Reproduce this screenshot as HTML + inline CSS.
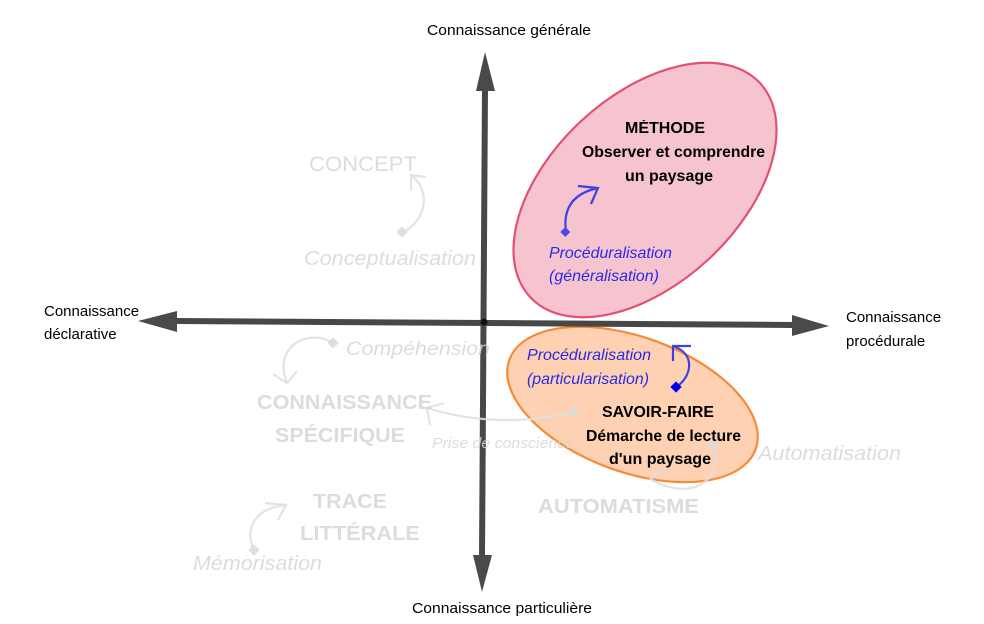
<!DOCTYPE html>
<html>
<head>
<meta charset="utf-8">
<style>
html,body{margin:0;padding:0;background:#fff;}
svg{display:block;}
text{font-family:"Liberation Sans",Arial,sans-serif;}
</style>
</head>
<body>
<svg width="984" height="624" viewBox="0 0 984 624" xmlns="http://www.w3.org/2000/svg">
  <rect width="984" height="624" fill="#fff"/>

  <!-- Ellipses -->
  <ellipse cx="645" cy="190" rx="157" ry="94" transform="rotate(-43 645 190)" fill="#f6c4cf" stroke="#e4506f" stroke-width="2.2"/>
  <ellipse cx="632.5" cy="404.5" rx="131" ry="67.5" transform="rotate(20 632.5 404.5)" fill="#fdd1b2" stroke="#f68a3a" stroke-width="2.2"/>

  <!-- Axes -->
  <g stroke="#474747" stroke-width="6" stroke-linecap="butt">
    <line x1="485" y1="88" x2="482" y2="557"/>
    <line x1="175" y1="321" x2="794" y2="325"/>
  </g>
  <g fill="#4a4a4a">
    <polygon points="485,52 476,91 495,91"/>
    <polygon points="482,592 473,555 492,555"/>
    <polygon points="138,321 177,311 177,332"/>
    <polygon points="829,326 792,315 792,336"/>
  </g>
  <circle cx="484" cy="322" r="3.5" fill="#111"/>

  <!-- Axis labels -->
  <g font-size="15" fill="#000">
    <text x="427" y="35" textLength="164" lengthAdjust="spacingAndGlyphs">Connaissance générale</text>
    <text x="412" y="613" textLength="180" lengthAdjust="spacingAndGlyphs">Connaissance particulière</text>
    <text x="44" y="316">Connaissance</text>
    <text x="44" y="339">déclarative</text>
    <text x="846" y="322">Connaissance</text>
    <text x="846" y="346">procédurale</text>
  </g>

  <!-- Grey (faded) elements -->
  <g fill="none" stroke="#e0e0e0" stroke-width="2.2" opacity="0.9">
    <path d="M403,232 C425,222 432,192 412,176"/>
    <polyline points="426,177 411,175 411,191"/>
    <path d="M333,343 C310,328 272,345 287,383"/>
    <polyline points="273,374 287,383 297,371"/>
    <path d="M574,412 Q500,430 427,408"/>
    <polyline points="444,403 427,408 430,425"/>
    <path d="M713,445 C724,482 690,502 650,479"/>
    <polyline points="665,467 650,479"/>
    <path d="M254,550 C244,530 254,508 286,505"/>
    <polyline points="265,503 286,505 278,520"/>
  </g>
  <g fill="#dcdcdc" opacity="0.9">
    <rect x="398" y="228" width="8" height="8" transform="rotate(45 402 232)"/>
    <rect x="329" y="339" width="8" height="8" transform="rotate(45 333 343)"/>
    <rect x="570" y="408" width="8" height="8" transform="rotate(45 574 412)"/>
    <rect x="709" y="441" width="8" height="8" transform="rotate(45 713 445)"/>
    <rect x="250" y="546" width="8" height="8" transform="rotate(45 254 550)"/>
  </g>
  <g fill="#d6d6d6" opacity="0.85">
    <text x="309" y="171" font-size="21" textLength="108" lengthAdjust="spacingAndGlyphs">CONCEPT</text>
    <text x="304" y="265" font-size="20" font-style="italic" textLength="172" lengthAdjust="spacingAndGlyphs">Conceptualisation</text>
    <text x="346" y="355" font-size="19" font-style="italic" textLength="144" lengthAdjust="spacingAndGlyphs">Compéhension</text>
    <text x="257" y="409" font-size="20" font-weight="bold" textLength="175" lengthAdjust="spacingAndGlyphs">CONNAISSANCE</text>
    <text x="275" y="442" font-size="20" font-weight="bold" textLength="130" lengthAdjust="spacingAndGlyphs">SPÉCIFIQUE</text>
    <text x="432" y="448" font-size="15" font-style="italic" textLength="142" lengthAdjust="spacingAndGlyphs">Prise de conscience</text>
    <text x="758" y="460" font-size="20" font-style="italic" textLength="143" lengthAdjust="spacingAndGlyphs">Automatisation</text>
    <text x="538" y="513" font-size="20" font-weight="bold" textLength="161" lengthAdjust="spacingAndGlyphs">AUTOMATISME</text>
    <text x="313" y="508" font-size="20" font-weight="bold" textLength="74" lengthAdjust="spacingAndGlyphs">TRACE</text>
    <text x="300" y="540" font-size="20" font-weight="bold" textLength="120" lengthAdjust="spacingAndGlyphs">LITTÉRALE</text>
    <text x="193" y="570" font-size="20" font-style="italic" textLength="129" lengthAdjust="spacingAndGlyphs">Mémorisation</text>
  </g>

  <!-- Blue arrows -->
  <g fill="none" stroke="#4040e8" stroke-width="2.2">
    <path d="M566,232 Q561,196 598,188"/>
    <polyline points="578,186 598,188 591,204"/>
    <path d="M676,387 C691,378 697,354 673,346"/>
    <polyline points="691,346 673,346 673,361"/>
  </g>
  <rect x="562" y="229" width="7" height="7" transform="rotate(45 566 232)" fill="#4848f0"/>
  <rect x="672" y="383" width="8" height="8" transform="rotate(45 676 387)" fill="#0000ee"/>

  <!-- Blue labels -->
  <g fill="#2a2ae6" font-size="16" font-style="italic">
    <text x="549" y="258" textLength="123" lengthAdjust="spacingAndGlyphs">Procéduralisation</text>
    <text x="549" y="281" textLength="110" lengthAdjust="spacingAndGlyphs">(généralisation)</text>
    <text x="527" y="360" textLength="124" lengthAdjust="spacingAndGlyphs">Procéduralisation</text>
    <text x="527" y="384" textLength="122" lengthAdjust="spacingAndGlyphs">(particularisation)</text>
  </g>

  <!-- Main bold labels -->
  <g fill="#000" font-size="15.5" font-weight="bold" text-anchor="middle">
    <text x="665" y="133" textLength="80" lengthAdjust="spacingAndGlyphs">MÉTHODE</text>
    <text x="673.5" y="157" textLength="183" lengthAdjust="spacingAndGlyphs">Observer et comprendre</text>
    <text x="669" y="181" textLength="88" lengthAdjust="spacingAndGlyphs">un paysage</text>
    <text x="658" y="417" textLength="112" lengthAdjust="spacingAndGlyphs">SAVOIR-FAIRE</text>
    <text x="663.5" y="441" textLength="155" lengthAdjust="spacingAndGlyphs">Démarche de lecture</text>
    <text x="660" y="464" textLength="102" lengthAdjust="spacingAndGlyphs">d'un paysage</text>
  </g>
</svg>
</body>
</html>
